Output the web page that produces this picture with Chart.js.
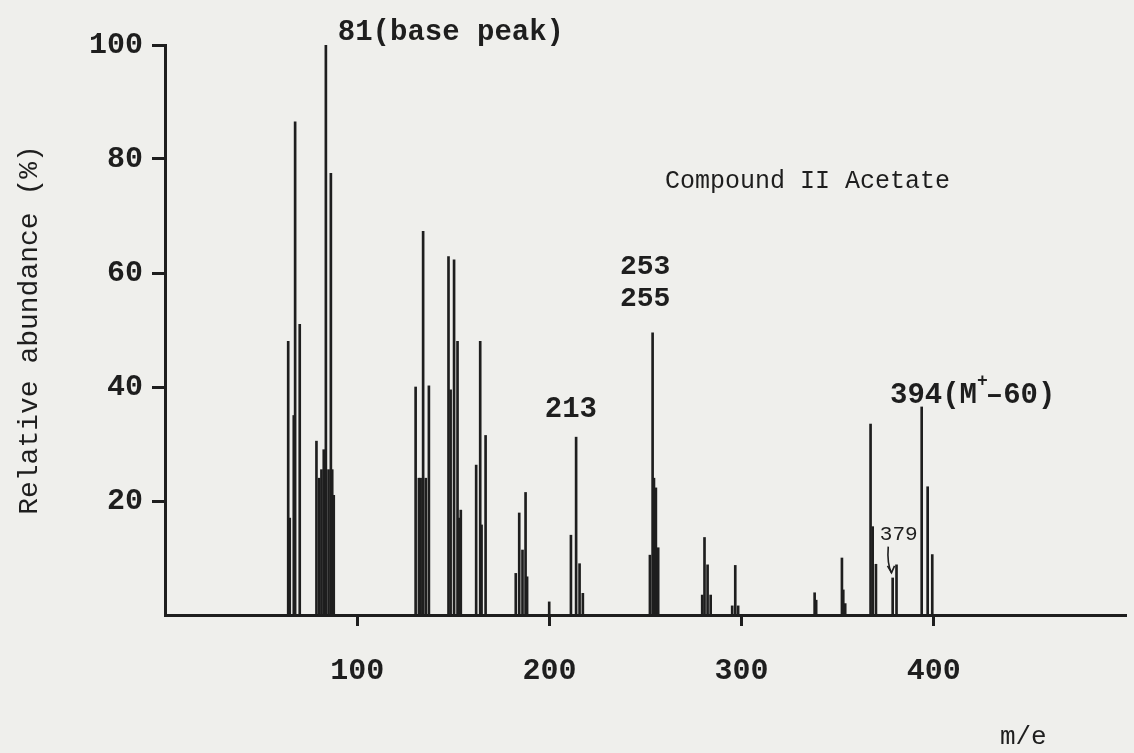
<!DOCTYPE html>
<html>
<head>
<meta charset="utf-8">
<title>Compound II Acetate – mass spectrum</title>
<script src="https://cdn.jsdelivr.net/npm/chart.js@4.4.1/dist/chart.umd.min.js"></script>
<style>
  html, body { margin: 0; padding: 0; background: #efefec; }
  #wrap { width: 1134px; height: 753px; position: relative; }
</style>
</head>
<body>
<div id="wrap"><canvas id="chart"></canvas></div>
<script>
// ---------- data ----------
const massToCharge = [
  64.1, 64.9, 67.0, 67.7, 70.1,
  78.8, 80.2, 81.4, 82.6, 83.7, 85.1, 86.3, 87.0, 87.8,
  130.4, 132.1, 133.0, 134.3, 135.7, 137.3,
  147.5, 148.6, 150.4, 152.2, 153.1, 153.9,
  161.9, 164.0, 164.7, 166.8,
  182.5, 184.3, 186.0, 187.6, 188.4,
  199.9,
  211.2, 213.9, 215.7, 217.4,
  252.3, 253.7, 254.4, 255.4, 256.6,
  279.5, 280.7, 282.3, 283.9,
  295.1, 296.7, 298.2,
  338.0, 338.8,
  352.2, 352.9, 353.9,
  367.1, 368.2, 369.9,
  378.6, 380.6,
  393.7, 396.8, 399.2
];
const relativeAbundance = [
  48, 17, 35, 86.5, 51,
  30.5, 24, 25.5, 29, 100, 25.5, 77.5, 25.5, 21,
  40, 24, 24, 67.3, 24, 40.2,
  62.9, 39.5, 62.3, 48, 17, 18.4,
  26.3, 48, 15.8, 31.5,
  7.3, 17.9, 11.4, 21.5, 6.7,
  2.3,
  14, 31.2, 9, 3.8,
  10.5, 49.5, 24, 22.3, 11.8,
  3.5, 13.6, 8.8, 3.5,
  1.6, 8.7, 1.6,
  3.9, 2.6,
  10, 4.4, 2,
  33.5, 15.5, 8.9,
  6.5, 8.8,
  36.5, 22.5, 10.6
];
const xTickValues = [100, 200, 300, 400];
const yTickValues = [20, 40, 60, 80, 100];
const xAxisTitle = 'm/e';
const yAxisTitle = 'Relative abundance (%)';
const chartLabel = 'Compound II Acetate';
const peakNoteTexts = ['81(base peak)', '253', '255', '213', '379'];

// ---------- styling / layout ----------
const INK = '#1e1e1e';
const PAPER = '#efefec';
const MONO = '"Liberation Mono", "DejaVu Sans Mono", monospace';

// annotation anchors (data coordinates of each text's left/middle)
const notes = [
  { text: peakNoteTexts[0], x: 89.9,  y: 102.1, font: 'bold 29px ' + MONO },
  { text: chartLabel,       x: 260.1, y: 76.0,  font: '25px ' + MONO },
  { text: peakNoteTexts[1], x: 236.7, y: 61.1,  font: 'bold 28px ' + MONO },
  { text: peakNoteTexts[2], x: 236.7, y: 55.4,  font: 'bold 28px ' + MONO },
  { text: peakNoteTexts[3], x: 197.6, y: 36.0,  font: 'bold 29px ' + MONO },
  { text: peakNoteTexts[4], x: 371.9, y: 14.2,  font: '21px ' + MONO },
  { text: xAxisTitle,       x: 434.4, y: -21.4, font: '26px ' + MONO }
];
const molecularIonNote = { x: 377.2, y: 38.4,
  parts: [ { t: '394(M', sup: false }, { t: '+', sup: true }, { t: '\u201360)', sup: false } ] };
const arrowNote = { x0: 376.3, y0: 12.0, cx: 375.6, cy: 9.0, x1: 378.0, y1: 7.4 };

const notesPlugin = {
  id: 'notes',
  beforeDraw(chart) {
    const ctx = chart.ctx;
    ctx.save();
    ctx.fillStyle = PAPER;
    ctx.fillRect(0, 0, chart.width, chart.height);
    ctx.restore();
  },
  afterDraw(chart) {
    const ctx = chart.ctx;
    const xs = chart.scales.x, ys = chart.scales.y;
    ctx.save();
    ctx.fillStyle = INK;
    ctx.strokeStyle = INK;
    ctx.textAlign = 'left';
    ctx.textBaseline = 'middle';
    notes.forEach(n => {
      ctx.font = n.font;
      ctx.fillText(n.text, xs.getPixelForValue(n.x), ys.getPixelForValue(n.y));
    });
    // 394(M+-60) with superscript +
    let px = xs.getPixelForValue(molecularIonNote.x);
    const py = ys.getPixelForValue(molecularIonNote.y);
    molecularIonNote.parts.forEach(p => {
      if (p.sup) {
        ctx.font = 'bold 18px ' + MONO;
        ctx.fillText(p.t, px, py - 15);
        px += ctx.measureText(p.t).width - 2;
      } else {
        ctx.font = 'bold 29px ' + MONO;
        ctx.fillText(p.t, px, py);
        px += ctx.measureText(p.t).width;
      }
    });
    // little curved arrow from "379" to its peak
    const a0x = xs.getPixelForValue(arrowNote.x0), a0y = ys.getPixelForValue(arrowNote.y0);
    const acx = xs.getPixelForValue(arrowNote.cx), acy = ys.getPixelForValue(arrowNote.cy);
    const a1x = xs.getPixelForValue(arrowNote.x1), a1y = ys.getPixelForValue(arrowNote.y1);
    ctx.lineWidth = 1.6;
    ctx.beginPath();
    ctx.moveTo(a0x, a0y);
    ctx.quadraticCurveTo(acx, acy, a1x, a1y);
    ctx.stroke();
    ctx.beginPath();
    ctx.moveTo(a1x - 4, a1y - 7);
    ctx.lineTo(a1x, a1y);
    ctx.lineTo(a1x + 3, a1y - 7);
    ctx.stroke();
    ctx.restore();
  }
};

const points = massToCharge.map((m, i) => ({ x: m, y: relativeAbundance[i] }));

new Chart(document.getElementById('chart'), {
  type: 'bar',
  data: {
    datasets: [{
      label: chartLabel,
      data: points,
      backgroundColor: INK,
      borderWidth: 0,
      barThickness: 2,
      grouped: false
    }]
  },
  options: {
    responsive: true,
    maintainAspectRatio: false,
    devicePixelRatio: 1,
    animation: false,
    layout: { padding: { left: 0, top: 45, right: 8, bottom: 0 } },
    plugins: { legend: { display: false }, tooltip: { enabled: false } },
    scales: {
      x: {
        type: 'linear',
        min: 0,
        max: 500,
        offset: false,
        afterBuildTicks: s => { s.ticks = xTickValues.map(v => ({ value: v })); },
        afterFit: s => { s.height = 138; },
        border: { display: true, color: INK, width: 3 },
        grid: { display: true, offset: false, drawOnChartArea: false, drawTicks: true, tickLength: 11, tickWidth: 3, tickColor: INK },
        ticks: { color: INK, padding: 27, maxRotation: 0, font: { family: MONO, size: 30, weight: 'bold' } }
      },
      y: {
        type: 'linear',
        min: 0,
        max: 100,
        afterBuildTicks: s => { s.ticks = yTickValues.map(v => ({ value: v })); },
        afterFit: s => { s.width = 165; },
        border: { display: true, color: INK, width: 3 },
        grid: { display: true, offset: false, drawOnChartArea: false, drawTicks: true, tickLength: 13, tickWidth: 3, tickColor: INK },
        ticks: { color: INK, padding: 9, font: { family: MONO, size: 30, weight: 'bold' } },
        title: { display: true, text: yAxisTitle, color: INK, padding: { top: 13, bottom: 0 },
                 font: { family: MONO, size: 28, weight: 'normal', lineHeight: 1.2 } }
      }
    }
  },
  plugins: [notesPlugin]
});
</script>
</body>
</html>
